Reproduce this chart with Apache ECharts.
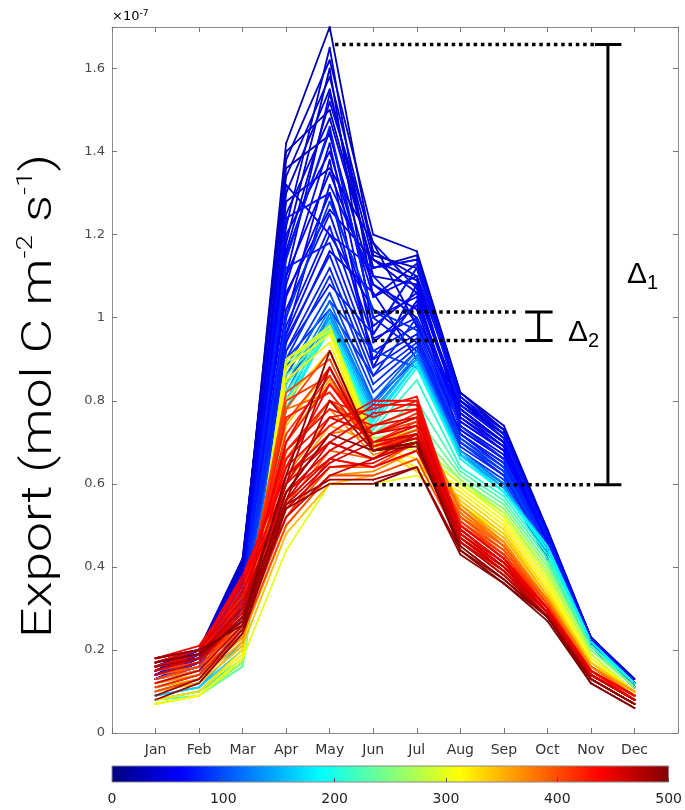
<!DOCTYPE html>
<html><head><meta charset="utf-8">
<script src="https://cdn.jsdelivr.net/npm/echarts@6/dist/echarts.min.js"></script>
<style>html,body{margin:0;padding:0;background:#fff}#c{width:685px;height:810px}</style>
</head><body><div id="c"></div>
<script>
// ---------- data (values in units of 1e-7 mol C m^-2 s^-1) ----------
const months = ['Jan','Feb','Mar','Apr','May','Jun','Jul','Aug','Sep','Oct','Nov','Dec'];
const yTickLabels = ['0','0.2','0.4','0.6','0.8','1','1.2','1.4','1.6'];
const colorbarTicks = ['0','100','200','300','400','500'];

const blueParams = [20,32,40,48,52,56,60,64,68,72,74,78,80,84,86,92,36,44,50,62,70,28,
                    33,38,42,48,52,62,67,74,77,84,90,94,26,46,68];
const blueRuns = [
  [0.15,0.19,0.40,1.42,1.70,1.15,1.12,0.80,0.72,0.48,0.23,0.12],
  [0.16,0.20,0.41,1.38,1.62,1.20,1.16,0.82,0.74,0.49,0.23,0.13],
  [0.14,0.18,0.38,1.30,1.55,1.10,1.08,0.78,0.70,0.47,0.22,0.12],
  [0.15,0.20,0.39,1.25,1.48,1.12,1.14,0.80,0.71,0.48,0.23,0.12],
  [0.14,0.19,0.37,1.20,1.40,1.05,1.10,0.76,0.69,0.46,0.22,0.12],
  [0.15,0.18,0.36,1.15,1.45,1.00,1.05,0.75,0.68,0.46,0.22,0.12],
  [0.13,0.17,0.35,1.10,1.35,1.08,1.02,0.74,0.67,0.45,0.22,0.11],
  [0.14,0.18,0.36,1.05,1.30,0.98,1.06,0.73,0.66,0.45,0.22,0.12],
  [0.13,0.17,0.34,1.02,1.25,0.95,1.00,0.72,0.65,0.44,0.21,0.11],
  [0.14,0.18,0.35,0.98,1.22,0.92,0.98,0.72,0.64,0.44,0.21,0.11],
  [0.13,0.17,0.33,1.12,1.18,0.90,0.96,0.70,0.63,0.43,0.21,0.11],
  [0.13,0.16,0.32,0.95,1.15,0.88,0.95,0.70,0.62,0.43,0.21,0.11],
  [0.13,0.17,0.33,0.92,1.12,0.86,0.94,0.69,0.62,0.43,0.21,0.11],
  [0.13,0.16,0.31,0.90,1.10,0.84,0.93,0.68,0.61,0.42,0.21,0.11],
  [0.13,0.16,0.32,1.00,1.28,1.02,0.97,0.71,0.63,0.44,0.21,0.11],
  [0.13,0.15,0.30,0.88,1.06,0.82,0.92,0.67,0.60,0.42,0.21,0.11],
  [0.16,0.20,0.42,1.34,1.58,1.16,1.10,0.81,0.73,0.49,0.23,0.13],
  [0.15,0.19,0.40,1.22,1.65,1.05,1.13,0.79,0.71,0.47,0.22,0.12],
  [0.14,0.19,0.38,1.16,1.52,1.18,1.07,0.77,0.70,0.47,0.22,0.12],
  [0.14,0.18,0.36,1.08,1.42,0.94,1.03,0.76,0.68,0.46,0.22,0.12],
  [0.13,0.17,0.34,0.96,1.32,1.10,0.99,0.74,0.66,0.45,0.22,0.11],
  [0.15,0.20,0.41,1.40,1.50,1.12,1.15,0.82,0.73,0.48,0.23,0.12],
  [0.15,0.20,0.40,1.28,1.36,1.18,0.98,0.78,0.70,0.47,0.22,0.12],
  [0.14,0.19,0.39,1.18,1.60,0.96,1.12,0.80,0.72,0.48,0.23,0.12],
  [0.15,0.19,0.38,1.06,1.26,1.14,1.09,0.77,0.69,0.47,0.22,0.12],
  [0.14,0.18,0.37,1.32,1.20,1.02,0.94,0.75,0.68,0.46,0.22,0.12],
  [0.14,0.18,0.37,1.00,1.38,0.88,1.08,0.78,0.70,0.47,0.22,0.12],
  [0.13,0.18,0.36,0.94,1.16,1.06,0.90,0.73,0.66,0.45,0.22,0.11],
  [0.14,0.18,0.35,1.24,1.30,0.90,1.04,0.76,0.69,0.46,0.22,0.12],
  [0.13,0.17,0.34,0.92,1.08,0.96,1.12,0.79,0.71,0.47,0.22,0.12],
  [0.13,0.17,0.34,1.14,1.46,1.00,0.92,0.72,0.65,0.45,0.21,0.11],
  [0.13,0.17,0.33,0.90,1.02,0.86,1.00,0.74,0.66,0.45,0.22,0.11],
  [0.13,0.16,0.32,0.86,1.04,0.92,0.88,0.71,0.64,0.44,0.21,0.11],
  [0.13,0.16,0.31,0.84,1.00,0.80,0.90,0.70,0.63,0.44,0.21,0.11],
  [0.16,0.20,0.42,1.36,1.44,1.08,1.00,0.79,0.72,0.48,0.23,0.12],
  [0.15,0.20,0.40,1.10,1.54,1.14,1.06,0.80,0.73,0.48,0.23,0.12],
  [0.14,0.18,0.36,0.96,1.20,1.12,1.14,0.81,0.72,0.48,0.23,0.12]
];

const cyanParams = [115,125,135,150,165,180,195,210,225,240];
const cyanRuns = [
  [0.11,0.14,0.28,0.86,1.04,0.80,0.92,0.68,0.60,0.42,0.21,0.11],
  [0.10,0.13,0.26,0.84,1.02,0.79,0.91,0.67,0.60,0.43,0.21,0.11],
  [0.10,0.12,0.24,0.82,1.01,0.78,0.90,0.67,0.59,0.44,0.21,0.12],
  [0.09,0.11,0.22,0.80,1.00,0.77,0.90,0.68,0.59,0.45,0.22,0.12],
  [0.09,0.11,0.20,0.78,0.99,0.76,0.89,0.67,0.58,0.45,0.22,0.12],
  [0.08,0.10,0.18,0.78,0.98,0.75,0.89,0.66,0.58,0.45,0.22,0.12],
  [0.08,0.10,0.17,0.80,0.97,0.74,0.88,0.66,0.58,0.44,0.21,0.12],
  [0.08,0.10,0.17,0.82,0.97,0.73,0.85,0.64,0.57,0.43,0.21,0.11],
  [0.08,0.09,0.16,0.84,0.97,0.72,0.80,0.63,0.56,0.42,0.21,0.11],
  [0.07,0.09,0.16,0.86,0.97,0.72,0.76,0.62,0.55,0.41,0.20,0.11]
];

const yellowParams = [255,270,285,300,310,320,302,330];
const yellowRuns = [
  [0.07,0.09,0.17,0.88,0.98,0.71,0.73,0.61,0.54,0.40,0.20,0.11],
  [0.07,0.09,0.17,0.89,0.98,0.71,0.70,0.61,0.53,0.39,0.19,0.10],
  [0.07,0.09,0.18,0.90,0.98,0.70,0.69,0.60,0.53,0.38,0.19,0.10],
  [0.07,0.09,0.18,0.90,0.97,0.70,0.68,0.60,0.52,0.37,0.18,0.10],
  [0.07,0.09,0.18,0.88,0.96,0.69,0.66,0.59,0.51,0.36,0.18,0.10],
  [0.08,0.10,0.19,0.85,0.94,0.69,0.64,0.58,0.50,0.35,0.17,0.10],
  [0.07,0.09,0.18,0.44,0.60,0.60,0.62,0.55,0.48,0.34,0.17,0.09],
  [0.08,0.10,0.20,0.80,0.92,0.69,0.63,0.57,0.49,0.34,0.17,0.09]
];

const orangeParams = [340,350,360,370,380,390,395,345,365,385,355,375];
const orangeRuns = [
  [0.10,0.12,0.21,0.74,0.88,0.68,0.70,0.56,0.48,0.33,0.17,0.10],
  [0.11,0.13,0.22,0.70,0.85,0.68,0.72,0.55,0.47,0.33,0.16,0.10],
  [0.12,0.14,0.23,0.66,0.80,0.70,0.74,0.55,0.46,0.32,0.16,0.10],
  [0.13,0.15,0.24,0.62,0.76,0.72,0.76,0.54,0.46,0.32,0.16,0.09],
  [0.14,0.16,0.25,0.58,0.72,0.74,0.78,0.53,0.45,0.32,0.16,0.09],
  [0.14,0.16,0.26,0.55,0.68,0.66,0.72,0.52,0.45,0.31,0.15,0.09],
  [0.15,0.17,0.27,0.52,0.64,0.64,0.70,0.51,0.44,0.31,0.15,0.09],
  [0.10,0.12,0.21,0.48,0.60,0.62,0.66,0.52,0.46,0.32,0.16,0.10],
  [0.12,0.14,0.23,0.50,0.62,0.63,0.68,0.53,0.45,0.32,0.16,0.09],
  [0.13,0.16,0.25,0.78,0.82,0.69,0.71,0.54,0.45,0.31,0.15,0.09],
  [0.11,0.13,0.22,0.60,0.74,0.70,0.73,0.54,0.46,0.32,0.16,0.10],
  [0.12,0.15,0.24,0.68,0.78,0.67,0.70,0.53,0.45,0.32,0.16,0.09]
];

const redParams = [400,405,410,415,420,425,430,435,440,445,450,455,460,412,422,432,442,452,465,
                   428,438,448,458,462,418,408,402];
const redRuns = [
  [0.15,0.17,0.28,0.82,0.90,0.68,0.72,0.52,0.44,0.31,0.15,0.09],
  [0.16,0.18,0.30,0.78,0.92,0.68,0.71,0.51,0.43,0.31,0.15,0.09],
  [0.16,0.18,0.32,0.75,0.88,0.69,0.73,0.51,0.43,0.30,0.15,0.09],
  [0.16,0.19,0.33,0.72,0.86,0.70,0.75,0.50,0.42,0.30,0.15,0.09],
  [0.17,0.19,0.34,0.70,0.84,0.72,0.77,0.50,0.42,0.30,0.15,0.08],
  [0.17,0.19,0.35,0.68,0.80,0.76,0.80,0.49,0.41,0.30,0.14,0.08],
  [0.17,0.20,0.36,0.66,0.76,0.78,0.81,0.49,0.41,0.29,0.14,0.08],
  [0.17,0.20,0.37,0.64,0.74,0.80,0.80,0.48,0.40,0.29,0.14,0.08],
  [0.18,0.20,0.38,0.62,0.72,0.79,0.79,0.48,0.40,0.29,0.14,0.08],
  [0.18,0.21,0.36,0.60,0.70,0.77,0.78,0.47,0.40,0.29,0.14,0.08],
  [0.18,0.20,0.34,0.58,0.68,0.74,0.76,0.47,0.39,0.29,0.14,0.08],
  [0.17,0.20,0.32,0.56,0.66,0.72,0.74,0.46,0.39,0.28,0.14,0.08],
  [0.17,0.19,0.30,0.55,0.65,0.70,0.72,0.46,0.38,0.28,0.13,0.07],
  [0.14,0.17,0.27,0.80,0.86,0.68,0.70,0.50,0.43,0.30,0.15,0.09],
  [0.15,0.18,0.29,0.76,0.82,0.69,0.71,0.50,0.42,0.30,0.15,0.09],
  [0.16,0.18,0.28,0.62,0.70,0.66,0.70,0.49,0.41,0.30,0.14,0.08],
  [0.16,0.19,0.31,0.58,0.66,0.64,0.68,0.48,0.41,0.29,0.14,0.08],
  [0.15,0.18,0.29,0.54,0.64,0.65,0.70,0.48,0.40,0.29,0.14,0.08],
  [0.16,0.18,0.28,0.52,0.62,0.66,0.72,0.47,0.39,0.28,0.13,0.07],
  [0.17,0.20,0.33,0.68,0.78,0.74,0.78,0.50,0.42,0.30,0.15,0.08],
  [0.16,0.19,0.31,0.64,0.84,0.70,0.74,0.49,0.41,0.30,0.14,0.08],
  [0.15,0.18,0.30,0.70,0.88,0.69,0.72,0.50,0.42,0.30,0.15,0.09],
  [0.14,0.17,0.28,0.60,0.76,0.72,0.76,0.49,0.41,0.29,0.14,0.08],
  [0.12,0.15,0.26,0.56,0.70,0.66,0.70,0.48,0.40,0.29,0.14,0.08],
  [0.11,0.14,0.25,0.52,0.66,0.64,0.68,0.47,0.40,0.29,0.14,0.08],
  [0.13,0.16,0.27,0.66,0.80,0.72,0.75,0.50,0.42,0.30,0.15,0.09],
  [0.10,0.13,0.24,0.50,0.62,0.62,0.66,0.46,0.39,0.29,0.14,0.08]
];

const darkRedParams = [470,478,485,490,495,500];
const darkRedRuns = [
  [0.17,0.19,0.30,0.60,0.88,0.68,0.71,0.46,0.38,0.28,0.13,0.07],
  [0.16,0.18,0.28,0.56,0.80,0.68,0.70,0.45,0.37,0.28,0.13,0.07],
  [0.09,0.13,0.25,0.55,0.61,0.61,0.64,0.44,0.37,0.28,0.13,0.07],
  [0.08,0.12,0.24,0.54,0.60,0.60,0.64,0.43,0.36,0.28,0.12,0.06],
  [0.18,0.20,0.26,0.58,0.72,0.68,0.69,0.45,0.37,0.28,0.13,0.07],
  [0.17,0.19,0.27,0.62,0.92,0.68,0.70,0.44,0.36,0.27,0.12,0.06]
];

// annotation levels (data units): Delta1 and Delta2 spans
const delta1Levels = [1.658, 0.598];
const delta2Levels = [1.014, 0.945];

// ---------- helpers ----------
function clamp(v){return Math.max(0,Math.min(1,v));}
function jet(t){
  const r = clamp(1.5 - Math.abs(4*t - 3));
  const g = clamp(1.5 - Math.abs(4*t - 2));
  const b = clamp(1.5 - Math.abs(4*t - 1));
  return 'rgb(' + Math.round(r*255) + ',' + Math.round(g*255) + ',' + Math.round(b*255) + ')';
}

const runs = [];
[[blueParams,blueRuns],[cyanParams,cyanRuns],[yellowParams,yellowRuns],
 [orangeParams,orangeRuns],[redParams,redRuns],[darkRedParams,darkRedRuns]].forEach(([ps,rs])=>{
  ps.forEach((p,i)=>runs.push({p:p, v:rs[i]}));
});
runs.sort((a,b)=>a.p-b.p);

const series = runs.map(r=>({
  type:'line', xAxisIndex:0, yAxisIndex:0, silent:true,
  data: r.v.map((v,i)=>[i+1, v]),
  symbol:'circle', symbolSize:2, showSymbol:true,
  itemStyle:{color: jet(r.p/500)},
  lineStyle:{color: jet(r.p/500), width:1.8},
  z:2
}));

const dotted = {color:'#000', width:3.5, type:[3.5,3.8], cap:'butt'};
const solid = {color:'#000', width:3};
function seg(pts, style){
  return {type:'line', xAxisIndex:0, yAxisIndex:0, silent:true, symbol:'none', data:pts,
          lineStyle:style, z:10, animation:false};
}
series.push(seg([[5.12,delta1Levels[0]],[11.16,delta1Levels[0]]], dotted));
series.push(seg([[6.04,delta1Levels[1]],[11.1,delta1Levels[1]]], dotted));
series.push(seg([[11.39,delta1Levels[0]],[11.39,delta1Levels[1]]], solid));
series.push(seg([[11.09,delta1Levels[0]],[11.70,delta1Levels[0]]], solid));
series.push(seg([[11.09,delta1Levels[1]],[11.70,delta1Levels[1]]], solid));
series.push(seg([[5.17,delta2Levels[0]],[9.3,delta2Levels[0]]], dotted));
series.push(seg([[5.17,delta2Levels[1]],[9.3,delta2Levels[1]]], dotted));
series.push(seg([[9.80,delta2Levels[0]],[9.80,delta2Levels[1]]], solid));
series.push(seg([[9.49,delta2Levels[0]],[10.12,delta2Levels[0]]], solid));
series.push(seg([[9.49,delta2Levels[1]],[10.12,delta2Levels[1]]], solid));

const axisGray = '#8c8c8c';
const baseX = {
  gridIndex:0, type:'value', min:0, max:13, interval:1,
  axisLine:{show:true, onZero:false, lineStyle:{color:axisGray, width:1}},
  axisTick:{show:true, inside:true, length:5, lineStyle:{color:'#777'}},
  splitLine:{show:false}
};
const baseY = {
  gridIndex:0, type:'value', min:0, max:1.7, interval:0.2,
  axisLine:{show:true, onZero:false, lineStyle:{color:axisGray, width:1}},
  axisTick:{show:true, inside:true, length:5, lineStyle:{color:'#777'}},
  splitLine:{show:false}
};

const chart = echarts.init(document.getElementById('c'), null, {renderer:'canvas'});
chart.setOption({
  animation:false,
  backgroundColor:'#fff',
  grid:[
    {left:112, top:27, width:566, height:706},
    {left:112, top:766, width:566, height:16, show:true, borderColor:'#888', borderWidth:1,
     backgroundColor: new echarts.graphic.LinearGradient(0,0,1,0,[
       {offset:0, color:'rgb(0,0,128)'},
       {offset:0.125, color:'rgb(0,0,255)'},
       {offset:0.375, color:'rgb(0,255,255)'},
       {offset:0.625, color:'rgb(255,255,0)'},
       {offset:0.875, color:'rgb(255,0,0)'},
       {offset:1, color:'rgb(128,0,0)'}
     ])}
  ],
  xAxis:[
    Object.assign({}, baseX, {position:'bottom',
      axisLabel:{show:true, margin:10, fontSize:14, color:'#333', fontFamily:'DejaVu Sans',
        formatter:(v)=> months[Math.round(v)-1] || ''}}),
    Object.assign({}, baseX, {position:'top', axisLabel:{show:false}}),
    {gridIndex:1, type:'value', min:0, max:500, interval:100, position:'bottom',
     axisLine:{show:false}, splitLine:{show:false},
     axisTick:{show:true, inside:true, length:4, lineStyle:{color:'#555'}},
     axisLabel:{show:true, margin:10, fontSize:14, color:'#222', fontFamily:'DejaVu Sans',
       formatter:(v)=> colorbarTicks[Math.round(v/100)] || ''}}
  ],
  yAxis:[
    Object.assign({}, baseY, {position:'left',
      axisLabel:{show:true, margin:7, fontSize:13, color:'#4a4a4a', fontFamily:'DejaVu Sans',
        formatter:(v)=>{const i=Math.round(v/0.2); return Math.abs(v-i*0.2)<1e-6 ? (yTickLabels[i]||'') : '';}}}),
    Object.assign({}, baseY, {position:'right', axisLabel:{show:false}}),
    {gridIndex:1, type:'value', min:0, max:1, show:false}
  ],
  graphic:[
    {type:'text', x:112, y:17, style:{
      text:'{a|×10}{s|-7}', verticalAlign:'middle', align:'left',
      rich:{a:{fontSize:13, color:'#555', fontFamily:'DejaVu Sans', lineHeight:16},
            s:{fontSize:9, color:'#555', fontFamily:'DejaVu Sans', verticalAlign:'top', lineHeight:16}}}},
    {type:'text', x:40, y:396, rotation:Math.PI/2, scaleX:1.27, scaleY:1.0, style:{
      text:'{a|Export (mol C m}{s|-2}{a| s}{s|-1}{a|)}', align:'center', verticalAlign:'middle',
      rich:{a:{fontSize:42, color:'#1b2c4a', fontFamily:'Roboto', fontWeight:300, lineHeight:50},
            s:{fontSize:22, color:'#1b2c4a', fontFamily:'Roboto', fontWeight:300, verticalAlign:'top', lineHeight:50}}}},
    {type:'text', x:627, y:275, style:{
      text:'{d|Δ}{s|1}', align:'left', verticalAlign:'middle',
      rich:{d:{fontSize:30, color:'#000', fontFamily:'Liberation Sans', lineHeight:36},
            s:{fontSize:20, color:'#000', fontFamily:'Liberation Sans', verticalAlign:'bottom', lineHeight:36}}}},
    {type:'text', x:568, y:333, style:{
      text:'{d|Δ}{s|2}', align:'left', verticalAlign:'middle',
      rich:{d:{fontSize:30, color:'#000', fontFamily:'Liberation Sans', lineHeight:36},
            s:{fontSize:20, color:'#000', fontFamily:'Liberation Sans', verticalAlign:'bottom', lineHeight:36}}}}
  ],
  series: series
});
</script>
</body></html>
